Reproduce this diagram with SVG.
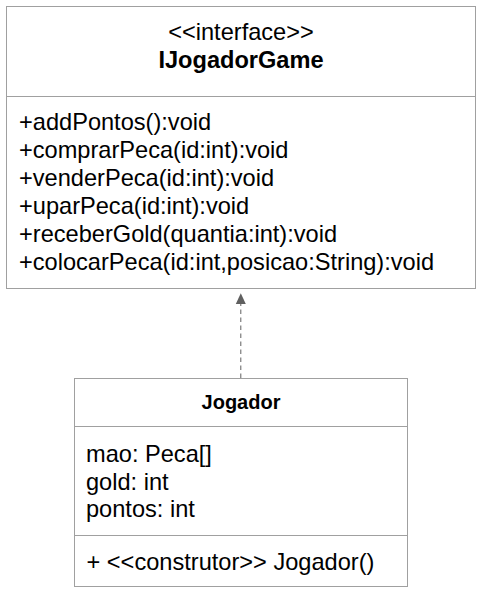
<svg xmlns="http://www.w3.org/2000/svg" width="483" height="594" viewBox="0 0 483 594">
<defs>
<style>
.box{fill:#ffffff;stroke:#a0a0a0;stroke-width:1}
.div{stroke:#a0a0a0;stroke-width:1;fill:none}
.t{font-family:"Liberation Sans",Arial,sans-serif;font-size:23.6px;fill:#000000}
.c{text-anchor:middle}
.b{font-weight:bold}
.edge{stroke:#606060;stroke-width:1;stroke-dasharray:4.5,3.5;fill:none}
.head{fill:#606060;stroke:none}
</style>
</defs>
<rect width="483" height="594" fill="#ffffff"/>
<g id="connectors">
<line class="edge" x1="240.8" y1="378" x2="240.8" y2="304"/>
<path class="head" d="M235.8,304 L240.8,293.3 L245.8,304 Z"/>
</g>
<g id="IJogadorGame">
<rect class="box" x="6.5" y="6.5" width="469" height="282"/>
<line class="div" x1="6.5" y1="96.5" x2="475.5" y2="96.5"/>
<text class="t c" x="241" y="40">&lt;&lt;interface&gt;&gt;</text>
<text class="t c b" x="241" y="68.3">IJogadorGame</text>
<text class="t" x="19" y="130">+addPontos():void</text>
<text class="t" x="19" y="158">+comprarPeca(id:int):void</text>
<text class="t" x="19" y="186">+venderPeca(id:int):void</text>
<text class="t" x="19" y="214">+uparPeca(id:int):void</text>
<text class="t" x="19" y="242">+receberGold(quantia:int):void</text>
<text class="t" x="19" y="270">+colocarPeca(id:int,posicao:String):void</text>
</g>
<g id="Jogador">
<rect class="box" x="74.5" y="378.5" width="333" height="208"/>
<line class="div" x1="74.5" y1="426.5" x2="407.5" y2="426.5"/>
<line class="div" x1="74.5" y1="535.5" x2="407.5" y2="535.5"/>
<text class="t c b" x="241" y="409.3" style="font-size:20px">Jogador</text>
<text class="t" x="86" y="461.7">mao: Peca[]</text>
<text class="t" x="86" y="489.5">gold: int</text>
<text class="t" x="86" y="517.3">pontos: int</text>
<text class="t" x="86.5" y="570">+ &lt;&lt;construtor&gt;&gt; Jogador()</text>
</g>
</svg>
